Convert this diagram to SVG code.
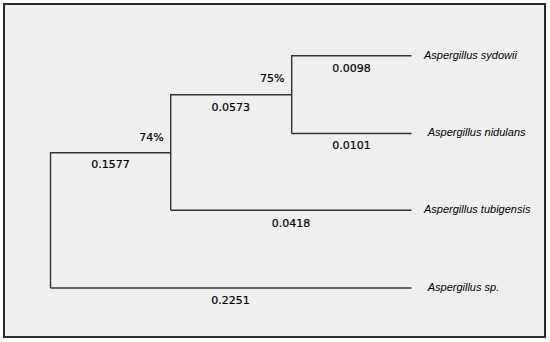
<svg xmlns="http://www.w3.org/2000/svg" width="550" height="342" viewBox="0 0 550 342">
<style>
.frame{fill:#efefef;stroke:#2a2a2a;stroke-width:2}
.br{fill:none;stroke:#333;stroke-width:1.4}
.num{font-family:"DejaVu Sans",Verdana,sans-serif;font-size:11px;fill:#000;stroke:#000;stroke-width:0.2;text-anchor:middle}
.leaf{font-family:"Liberation Sans",Arial,sans-serif;font-size:11px;font-style:italic;fill:#000}
</style>
<rect class="frame" x="4" y="4" width="541" height="333"/>
<g id="connectors">
<path class="br" d="M50.5,288 V152.7 H170.7"/>
<path class="br" d="M50.5,288 H411.5"/>
<path class="br" d="M170.7,210.3 V94.7 H291.7"/>
<path class="br" d="M170.7,210.3 H411.5"/>
<path class="br" d="M291.7,133.5 V55.7 H411.5"/>
<path class="br" d="M291.7,133.5 H411.5"/>
<text class="num" x="230.5" y="304.2">0.2251</text>
<text class="num" x="110.5" y="168.2">0.1577</text>
<text class="num" x="230.7" y="110.6">0.0573</text>
<text class="num" x="291" y="226.6">0.0418</text>
<text class="num" x="351.5" y="71.6">0.0098</text>
<text class="num" x="351.5" y="149.2">0.0101</text>
</g>
<g id="node-root"><text class="num" x="151.5" y="141.2">74%</text></g>
<g id="node-inner"><text class="num" x="272.3" y="82.3">75%</text></g>
<g id="leaf-sydowii"><text class="leaf" x="424" y="59">Aspergillus sydowii</text></g>
<g id="leaf-nidulans"><text class="leaf" x="427.7" y="135.5">Aspergillus nidulans</text></g>
<g id="leaf-tubigensis"><text class="leaf" x="424" y="213.3">Aspergillus tubigensis</text></g>
<g id="leaf-sp"><text class="leaf" x="427.7" y="290.5">Aspergillus sp.</text></g>
</svg>
